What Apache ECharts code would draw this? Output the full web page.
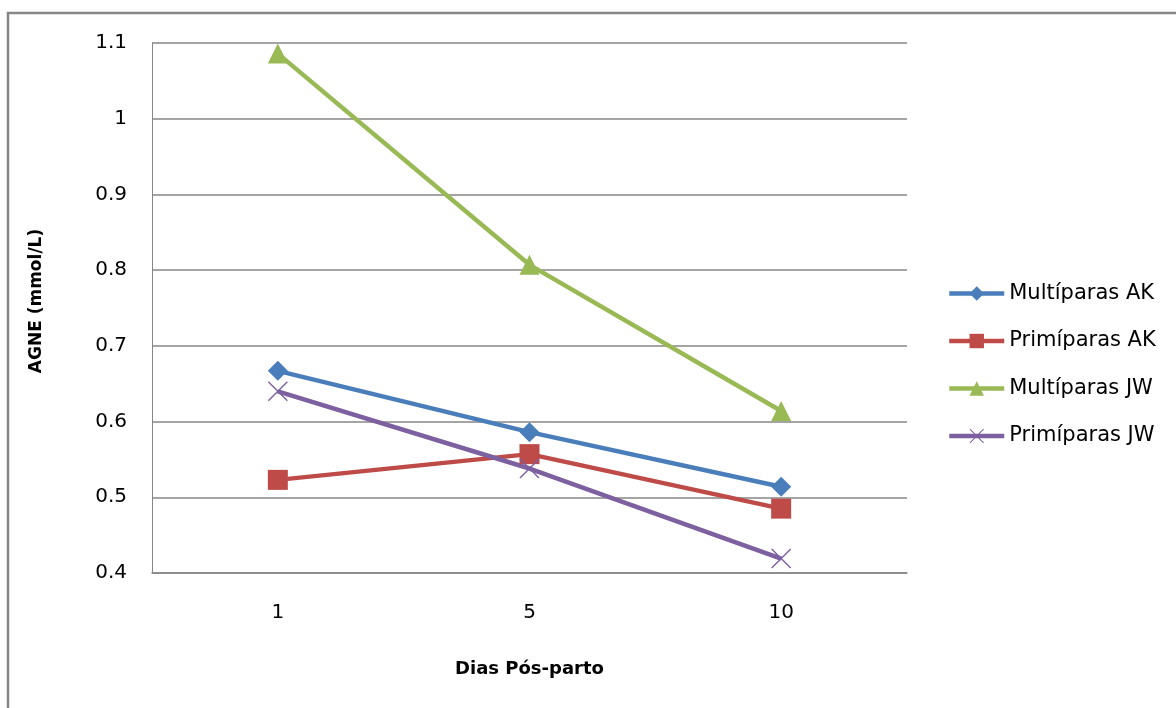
<!DOCTYPE html>
<html>
<head>
<meta charset="utf-8">
<script src="https://cdn.jsdelivr.net/npm/echarts@6/dist/echarts.min.js"></script>
<style>html,body{margin:0;padding:0;background:#fff;}#c{width:1176px;height:708px;}</style>
</head>
<body>
<div id="c"></div>
<script>
const categories = ['1', '5', '10'];
const multiparasAK = [0.667, 0.586, 0.514];
const primiparasAK = [0.523, 0.557, 0.485];
const multiparasJW = [1.086, 0.807, 0.614];
const primiparasJW = [0.640, 0.538, 0.419];
const seriesNames = ['Multíparas AK', 'Primíparas AK', 'Multíparas JW', 'Primíparas JW'];
const xAxisTitle = 'Dias Pós-parto';
const yAxisTitle = 'AGNE (mmol/L)';

const xSymbol = 'path://M0,1L1,0L20,19L19,20Z M19,0L20,1L1,20L0,19Z';
const font = 'DejaVu Sans';

const chart = echarts.init(document.getElementById('c'));
function mk(name, data, color, symbol, size) {
  return {
    name: name, type: 'line', data: data,
    symbol: symbol, symbolSize: size, showSymbol: true,
    lineStyle: { color: color, width: 4.5 },
    itemStyle: { color: color },
    emphasis: { disabled: true }
  };
}
chart.setOption({
  animation: false,
  backgroundColor: '#fff',
  graphic: [{
    type: 'rect', z: -10,
    shape: { x: 8, y: 13, width: 1200, height: 720 },
    style: { fill: 'none', stroke: '#868686', lineWidth: 2.5 }
  }],
  grid: { left: 152, top: 43, right: 269, bottom: 135 },
  legend: {
    orient: 'vertical', left: 942, top: 278,
    itemWidth: 55, itemHeight: 18, itemGap: 26.5,
    lineStyle: { width: 4.5 },
    textStyle: { fontFamily: font, fontSize: 21, color: '#000' },
    data: seriesNames
  },
  xAxis: {
    type: 'category', data: categories, boundaryGap: true,
    axisLine: { show: true, lineStyle: { color: '#868686', width: 1.5 } },
    axisTick: { show: false },
    axisLabel: { fontFamily: font, fontSize: 20, color: '#000', margin: 30 },
    name: xAxisTitle, nameLocation: 'middle', nameGap: 87,
    nameTextStyle: { fontFamily: font, fontSize: 18, fontWeight: 'bold', color: '#000' }
  },
  yAxis: {
    type: 'value', min: 0.4, max: 1.1, interval: 0.1,
    axisLine: { show: true, lineStyle: { color: '#868686', width: 1 } },
    axisTick: { show: false },
    splitLine: { show: true, lineStyle: { color: '#868686', width: 1.5 } },
    axisLabel: {
      fontFamily: font, fontSize: 20, color: '#000', margin: 25,
      formatter: function (v) { return String(Math.round(v * 10) / 10); }
    },
    name: yAxisTitle, nameLocation: 'middle', nameGap: 107, nameRotate: 90,
    nameTextStyle: { fontFamily: font, fontSize: 17, fontWeight: 'bold', color: '#000', padding: [0, 0, 0, 14] }
  },
  series: [
    mk(seriesNames[0], multiparasAK, '#4A7EBB', 'diamond', 20),
    mk(seriesNames[1], primiparasAK, '#BE4B48', 'rect', 20),
    mk(seriesNames[2], multiparasJW, '#98B954', 'triangle', 20),
    mk(seriesNames[3], primiparasJW, '#7D60A0', xSymbol, 20)
  ]
});
</script>
</body>
</html>
